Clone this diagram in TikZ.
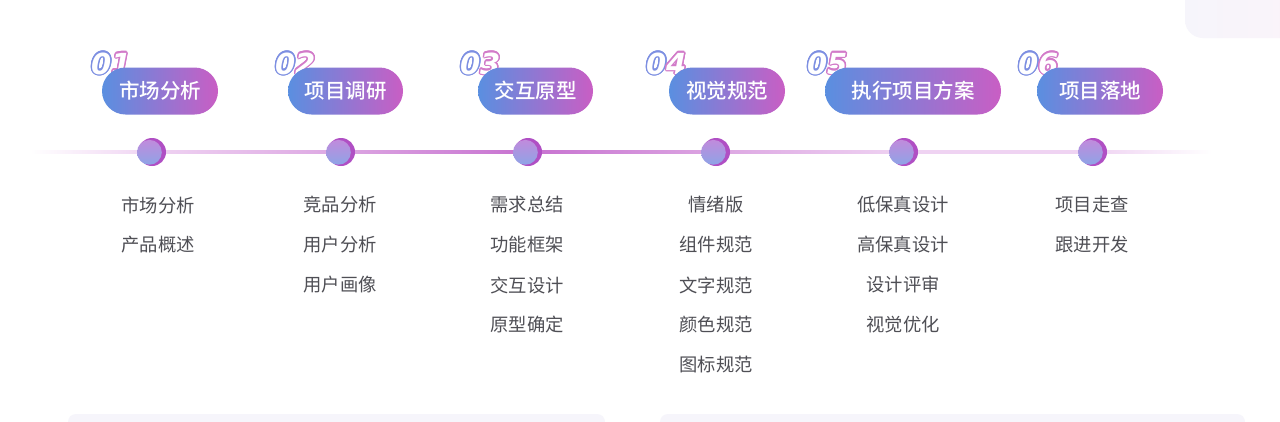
\documentclass[tikz,border=0pt]{standalone}
\usepackage{fontspec}
\newfontfamily\cjk{Noto Sans CJK SC}
\newfontfamily\cjkm{Noto Sans CJK SC Medium}
\newfontfamily\numfont{DejaVu Sans}
\usetikzlibrary{calc}
\definecolor{pillL}{HTML}{5A8FE0}
\definecolor{pillR}{HTML}{C95EC4}
\definecolor{lineL}{HTML}{EFD3F2}
\definecolor{lineM}{HTML}{DCA6E2}
\definecolor{lineS}{HTML}{C772D0}
\definecolor{dotOut}{HTML}{B04FC4}
\definecolor{dotA}{HTML}{8EA4E6}
\definecolor{dotB}{HTML}{C08BDC}
\definecolor{txt}{HTML}{4F4F55}
\definecolor{numA}{HTML}{7D8FE2}
\definecolor{numB}{HTML}{D27BC9}
\definecolor{faint}{HTML}{F6F5FB}
\definecolor{faintP}{HTML}{FBF3F9}
\tikzset{
  pill/.style={rounded corners=23.5pt, minimum height=47pt, inner sep=0pt,
    left color=pillL, right color=pillR, text=white,
    font=\cjkm\fontsize{20.5}{21}\selectfont},
  item/.style={text=txt, inner sep=0pt, font=\cjk\fontsize{18.3}{19}\selectfont},
  numstyle/.style={inner sep=0pt, anchor=base west,
    font=\numfont\bfseries\itshape\fontsize{29}{29}\selectfont},
  dot/.style={circle, fill=dotOut, minimum size=28pt, inner sep=0pt}
}
\newcommand\outlinedigit[3]{%
  \foreach \a in {0,22.5,...,337.5}
    \node[numstyle, text=#3, shift={(\a:1.4pt)}] at (#1) {#2};
  \node[numstyle, text=white] at (#1) {#2};}
\newcommand\stepnum[3]{% x, first digit, second digit
  \outlinedigit{#1,74}{#2}{numA}%
  \outlinedigit{#1+20,74}{#3}{numB}}
\begin{document}
\begin{tikzpicture}[x=1pt,y=-1pt]
\useasboundingbox (0,0) rectangle (1280,421);
\fill[white] (0,0) rectangle (1280,421);
% faint decorations
\shade[rounded corners=18pt, left color=faint, right color=faintP] (1185,-30) rectangle (1310,38);
\fill[faint, rounded corners=8pt] (68,414) rectangle (605,440);
\fill[faint, rounded corners=8pt] (660,414) rectangle (1245,440);

% timeline coordinates
\coordinate (c0) at (30,152);
\coordinate (c1) at (152,152);
\coordinate (c2) at (341,152);
\coordinate (c3) at (528,152);
\coordinate (c4) at (716,152);
\coordinate (c5) at (904,152);
\coordinate (c6) at (1093,152);
\coordinate (c7) at (1212,152);
\shade[left color=white, right color=lineL] ($(c0)+(0,-1.6)$) rectangle ($(c1)+(0,1.6)$);
\shade[left color=lineL, right color=lineM] ($(c1)+(0,-1.6)$) rectangle ($(c2)+(0,1.6)$);
\shade[left color=lineM, right color=lineS] ($(c2)+(0,-1.6)$) rectangle ($(c3)+(0,1.6)$);
\shade[left color=lineS, right color=lineM] ($(c3)+(0,-1.6)$) rectangle ($(c4)+(0,1.6)$);
\shade[left color=lineM, right color=lineL] ($(c4)+(0,-1.6)$) rectangle ($(c5)+(0,1.6)$);
\shade[left color=lineL, right color=lineL] ($(c5)+(0,-1.6)$) rectangle ($(c6)+(0,1.6)$);
\shade[left color=lineL, right color=white] ($(c6)+(0,-1.6)$) rectangle ($(c7)+(0,1.6)$);

% dots
\foreach \i in {1,...,6} {
  \node[dot] (dot\i) at (c\i) {};
  \shade[shading angle=45, bottom color=dotA, top color=dotB] ($(dot\i.center)+(-2.6,0.3)$) circle (12.4);
}

% numbers (behind pills)
\stepnum{91}{0}{1}
\stepnum{275}{0}{2}
\stepnum{460}{0}{3}
\stepnum{646}{0}{4}
\stepnum{807}{0}{5}
\stepnum{1018}{0}{6}

% pills
\node[pill, minimum width=116pt] (p1) at (160,91) {市场分析};
\node[pill, minimum width=115pt] (p2) at (345.5,91) {项目调研};
\node[pill, minimum width=115pt] (p3) at (535.5,91) {交互原型};
\node[pill, minimum width=116pt] (p4) at (727,91) {视觉规范};
\node[pill, minimum width=176pt] (p5) at (913,91) {执行项目方案};
\node[pill, minimum width=126pt] (p6) at (1100,91) {项目落地};

% lists
\node[item] (a1) at (158,205) {市场分析};
\node[item] (a2) at (158,245) {产品概述};

\node[item] (b1) at (340,205) {竞品分析};
\node[item] (b2) at (340,245) {用户分析};
\node[item] (b3) at (340,285) {用户画像};

\node[item] (d1) at (527,205) {需求总结};
\node[item] (d2) at (527,245) {功能框架};
\node[item] (d3) at (527,285) {交互设计};
\node[item] (d4) at (527,325) {原型确定};

\node[item] (e1) at (716,205) {情绪版};
\node[item] (e2) at (716,245) {组件规范};
\node[item] (e3) at (716,285) {文字规范};
\node[item] (e4) at (716,325) {颜色规范};
\node[item] (e5) at (716,365) {图标规范};

\node[item] (f1) at (903,205) {低保真设计};
\node[item] (f2) at (903,245) {高保真设计};
\node[item] (f3) at (903,285) {设计评审};
\node[item] (f4) at (903,325) {视觉优化};

\node[item] (g1) at (1092,205) {项目走查};
\node[item] (g2) at (1092,245) {跟进开发};
\end{tikzpicture}
\end{document}
